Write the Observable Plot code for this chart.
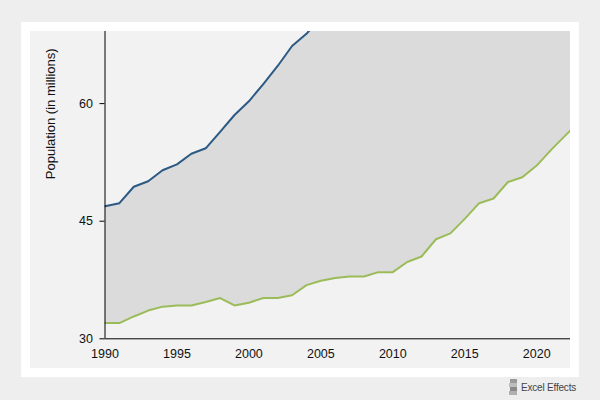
<!DOCTYPE html>
<html>
<head>
<meta charset="utf-8">
<script src="https://cdn.jsdelivr.net/npm/d3@7"></script>
<script src="https://cdn.jsdelivr.net/npm/@observablehq/plot@0.6"></script>
<style>
  body { margin: 0; font-family: "Liberation Sans", Arial, sans-serif; }
  #wrap { position: relative; width: 600px; height: 400px; background: #eeeeee; overflow: hidden; }
  #card { position: absolute; left: 21px; top: 22px; width: 558px; height: 355px; background: #ffffff; }
  #panel { position: absolute; left: 30px; top: 31px; width: 540px; height: 337px; background: #f2f2f2; }
  #chart { position: absolute; left: 0; top: 0; }
  #logo { position: absolute; left: 509px; top: 379px; display: flex; align-items: center; gap: 3px;
          font-size: 10px; color: #444; letter-spacing: -0.2px; }
</style>
</head>
<body>
<div id="wrap">
  <div id="card"></div>
  <div id="panel"></div>
  <div id="chart"></div>
  <div id="logo">
    <svg width="9" height="16" viewBox="0 0 9 16">
      <rect x="1" y="0" width="7" height="4" fill="#9a9a9a"/>
      <rect x="0" y="4" width="8" height="4" fill="#bdbdbd"/>
      <rect x="1" y="8" width="7" height="4" fill="#8a8a8a"/>
      <rect x="0" y="12" width="8" height="4" fill="#b0b0b0"/>
    </svg>
    <span>Excel Effects</span>
  </div>
</div>
<script>
// Data
const years = [1990,1991,1992,1993,1994,1995,1996,1997,1998,1999,2000,2001,2002,2003,2004,2005,2006,2007,2008,2009,2010,2011,2012,2013,2014,2015,2016,2017,2018,2019,2020,2021,2022,2023];
// Upper series (leaves the visible range after 2004)
const upperValues = [46.9,47.3,49.4,50.1,51.5,52.25,53.6,54.3,56.4,58.55,60.3,62.5,64.8,67.35,68.9,71,73,75,77,79,81,83,85,87,89,91,93,95,97,99,101,103,105,107];
// Lower series
const lowerValues = [32.0,32.0,32.85,33.6,34.1,34.25,34.25,34.7,35.2,34.25,34.6,35.2,35.2,35.55,36.85,37.4,37.75,37.95,37.95,38.5,38.5,39.8,40.5,42.7,43.45,45.3,47.3,47.9,50.0,50.6,52.1,54.1,55.95,57.8];
const xTicks = [1990,1995,2000,2005,2010,2015,2020];
const yTicks = [30,45,60];
const xDomain = [1990, 2022.35];
const yDomain = [30, 69.2];
const yLabel = "Population (in millions)";

const data = years.map((year, i) => ({year, upper: upperValues[i], lower: lowerValues[i]}));

const chart = Plot.plot({
  width: 600,
  height: 400,
  marginLeft: 104.5,
  marginRight: 30,
  marginTop: 31,
  marginBottom: 61.7,
  style: {background: "transparent", fontFamily: "'Liberation Sans', Arial, sans-serif", fontSize: "12.5px", color: "#111"},
  x: {domain: xDomain},
  y: {domain: yDomain},
  marks: [
    Plot.areaY(data, {x: "year", y1: "lower", y2: "upper", fill: "#dbdbdb", clip: true}),
    Plot.lineY(data, {x: "year", y: "upper", stroke: "#2c5a85", strokeWidth: 2, clip: true}),
    Plot.lineY(data, {x: "year", y: "lower", stroke: "#9bbb59", strokeWidth: 2, clip: true}),
    Plot.ruleX([xDomain[0]], {stroke: "#000", strokeWidth: 1}),
    Plot.ruleY([yDomain[0]], {stroke: "#000", strokeWidth: 1}),
    Plot.axisY({ticks: yTicks, tickSize: 5, tickPadding: 7, label: null, stroke: "#000"}),
    Plot.axisX({ticks: xTicks, tickSize: 0, tickPadding: 10, tickFormat: "d", label: null}),
    Plot.text([yLabel], {frameAnchor: "top-left", dx: -54, dy: 82.3, rotate: -90, textAnchor: "middle", lineAnchor: "middle", fontSize: 13, fill: "#111"})
  ]
});
document.getElementById("chart").appendChild(chart);
</script>
</body>
</html>
